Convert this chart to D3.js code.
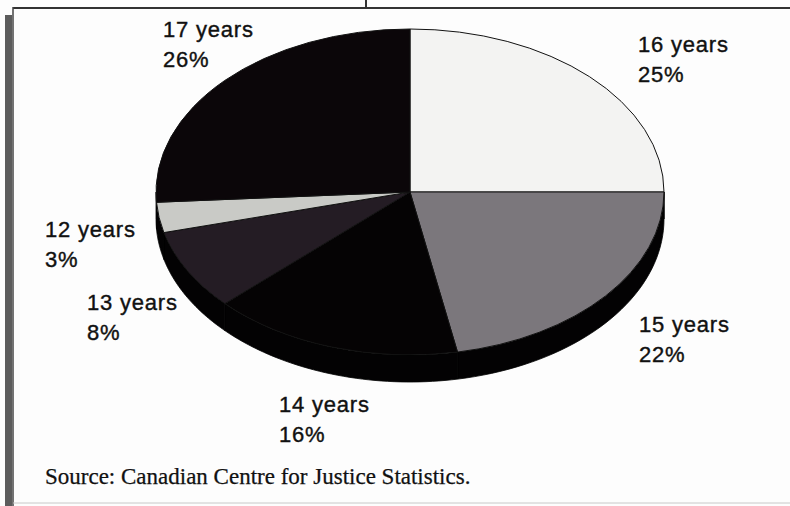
<!DOCTYPE html>
<html>
<head>
<meta charset="utf-8">
<script src="https://cdn.jsdelivr.net/npm/d3@7"></script>
<style>
  html, body { margin: 0; padding: 0; background: #fdfdfd; }
  svg { display: block; }
</style>
</head>
<body>
<svg id="chart" width="790" height="506"></svg>
<script>
// ---- data ----
const categories = ["16 years", "15 years", "14 years", "13 years", "12 years", "17 years"];
const values = [25, 22, 16, 8, 3, 26];
const percentLabels = ["25%", "22%", "16%", "8%", "3%", "26%"];
const sourceNote = "Source: Canadian Centre for Justice Statistics.";

// ---- styles / layout (kept separate from data) ----
const topColors = ["#f3f3f2", "#7b777c", "#050304", "#241c24", "#c9cac6", "#0b0609"];
const sideColor = "#030203";
const labelPos = [[638, 52], [639, 332], [279, 412], [87, 310], [45, 237], [163, 37]];
const lineGap = 29.5;

const W = 790, H = 506;
const cx = 410, cy = 192, rx = 254, ry = 163, depth = 27;

const svg = d3.select("#chart");

// frame
svg.append("rect").attr("x", 0).attr("y", 0).attr("width", W).attr("height", H).attr("fill", "#fdfdfd");
svg.append("rect").attr("x", 5).attr("y", 15).attr("width", 7).attr("height", H - 15).attr("fill", "#5c5c5c");
svg.append("line").attr("x1", 13).attr("x2", W).attr("y1", 8).attr("y2", 8).attr("stroke", "#333").attr("stroke-width", 2);
svg.append("line").attr("x1", 13).attr("x2", 13).attr("y1", 7).attr("y2", H).attr("stroke", "#444").attr("stroke-width", 1.5);
svg.append("line").attr("x1", 366).attr("x2", 366).attr("y1", 0).attr("y2", 8).attr("stroke", "#333").attr("stroke-width", 2);
svg.append("line").attr("x1", 13).attr("x2", W).attr("y1", 503).attr("y2", 503).attr("stroke", "#c8c8c8").attr("stroke-width", 1);

const data = categories.map((c, i) => ({ cat: c, value: values[i], pct: percentLabels[i], i }));
const pie = d3.pie().sort(null).value(d => d.value).startAngle(0).endAngle(2 * Math.PI);
const arcs = pie(data);

// elliptical point helpers (d3 angle convention: 0 = 12 o'clock, clockwise)
const px = a => cx + rx * Math.sin(a);
const py = (a, off) => cy - ry * Math.cos(a) + off;

// side walls (front half only)
const g = svg.append("g");
const sideArcs = arcs.map(d => {
  const s = Math.max(d.startAngle, Math.PI / 2);
  const e = Math.min(d.endAngle, 3 * Math.PI / 2);
  return { d, s, e };
}).filter(o => o.s < o.e);

g.selectAll("path.side").data(sideArcs).join("path")
  .attr("class", "side")
  .attr("fill", sideColor)
  .attr("stroke", sideColor)
  .attr("stroke-width", 0.8)
  .attr("d", o => {
    const n = 40;
    const upper = d3.range(n + 1).map(k => o.s + (o.e - o.s) * k / n);
    const pts = upper.map(a => [px(a), py(a, 0)])
      .concat(upper.slice().reverse().map(a => [px(a), py(a, depth)]));
    return d3.line()(pts) + "Z";
  });

// top faces
const arcGen = d3.arc().innerRadius(0).outerRadius(1);
g.append("g")
  .attr("transform", `translate(${cx},${cy}) scale(${rx},${ry})`)
  .selectAll("path.top").data(arcs).join("path")
  .attr("class", "top")
  .attr("d", arcGen)
  .attr("fill", d => topColors[d.data.i])
  .attr("stroke", "#121212")
  .attr("stroke-width", 1)
  .attr("vector-effect", "non-scaling-stroke");

// labels
const lab = svg.append("g")
  .attr("font-family", "'Liberation Sans', Arial, Helvetica, sans-serif")
  .attr("font-size", 22)
  .attr("letter-spacing", 0.8)
  .attr("fill", "#111")
  .attr("stroke", "#111")
  .attr("stroke-width", 0.4);
const lg = lab.selectAll("g").data(arcs).join("g")
  .attr("transform", d => `translate(${labelPos[d.data.i][0]},${labelPos[d.data.i][1]})`);
lg.append("text").attr("x", 0).attr("y", 0).text(d => d.data.cat);
lg.append("text").attr("x", 0).attr("y", lineGap).text(d => d.data.pct);

// source note
svg.append("text")
  .attr("x", 45).attr("y", 484)
  .attr("font-family", "'Liberation Serif', 'Times New Roman', serif")
  .attr("font-size", 23)
  .attr("fill", "#111")
  .attr("stroke", "#111")
  .attr("stroke-width", 0.25)
  .text(sourceNote);
</script>
</body>
</html>
